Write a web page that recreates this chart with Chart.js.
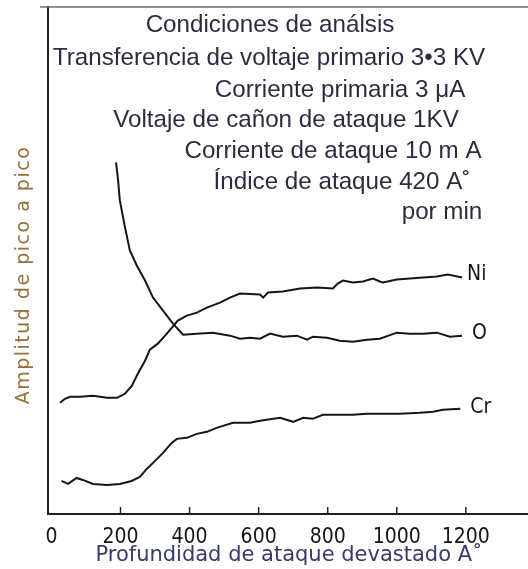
<!DOCTYPE html>
<html>
<head>
<meta charset="utf-8">
<script src="https://cdn.jsdelivr.net/npm/chart.js@4.4.1/dist/chart.umd.min.js"></script>
<style>
  html, body { margin: 0; padding: 0; background: #fff; }
  #wrap { width: 528px; height: 569px; position: relative; }
</style>
</head>
<body>
<div id="wrap"><canvas id="perfil"></canvas></div>
<script>
// Profundidad (A) y amplitud pico a pico de cada elemento
const depthTicks = [0, 200, 400, 600, 800, 1000, 1200];

const niDepth = [25, 39, 54, 83, 120, 161, 190, 213, 233, 250, 271, 285, 308, 329, 349, 366, 392, 421, 450, 488, 517, 546, 604, 613, 627, 670, 720, 769, 815, 829, 844, 873, 902, 931, 951, 960, 1000, 1038, 1076, 1116, 1148, 1189];
const niAmp = [111, 115, 117, 117, 118, 116, 116, 120, 128, 140, 153, 164, 170, 178, 186, 193, 198, 201, 206, 211, 216, 220, 219, 216, 221, 222, 225, 226, 225, 230, 233, 231, 232, 235, 232, 231, 234, 235, 236, 237, 239, 236];

const oDepth = [187, 193, 198, 213, 227, 247, 271, 294, 323, 352, 381, 421, 468, 517, 546, 575, 604, 633, 670, 711, 740, 757, 798, 835, 873, 914, 951, 1000, 1038, 1076, 1116, 1154, 1189];
const oAmp = [351, 333, 313, 286, 263, 248, 233, 216, 203, 190, 179, 180, 181, 178, 175, 176, 175, 180, 177, 178, 174, 177, 176, 173, 172, 174, 175, 181, 180, 180, 181, 177, 178];

const crDepth = [29, 48, 73, 91, 120, 161, 198, 232, 256, 276, 300, 323, 348, 363, 392, 421, 450, 478, 526, 575, 604, 662, 700, 729, 757, 786, 835, 873, 914, 951, 1009, 1067, 1105, 1134, 1184];
const crAmp = [33, 30, 36, 34, 30, 29, 30, 33, 37, 45, 53, 61, 71, 75, 76, 80, 82, 86, 91, 91, 93, 96, 92, 96, 95, 99, 99, 99, 100, 100, 100, 101, 102, 104, 105];

const seriesNames = ['Ni', 'O', 'Cr'];

const conditionLines = [
  'Condiciones de análsis',
  'Transferencia de voltaje primario 3•3 KV',
  'Corriente primaria 3 μA',
  'Voltaje de cañon de ataque 1KV',
  'Corriente de ataque 10 m A',
  'Índice de ataque 420 A˚',
  'por min'
];

const xTitle = 'Profundidad de ataque devastado A˚';
const yTitle = 'Amplitud de pico a pico';

function toPoints(xs, ys) {
  return xs.map((x, i) => ({ x: x, y: ys[i] }));
}

const lineStyle = {
  borderColor: '#161616',
  borderWidth: 2,
  pointRadius: 0,
  tension: 0,
  fill: false
};

// marco superior, marcas hacia dentro, rotulos de curvas, condiciones y titulos
const overlay = {
  id: 'overlay',
  afterDraw(chart, args, opts) {
    const ctx = chart.ctx;
    const area = chart.chartArea;
    const xs = chart.scales.x;

    ctx.save();

    // linea superior del marco
    ctx.strokeStyle = '#6a6a6a';
    ctx.lineWidth = 1.5;
    ctx.beginPath();
    ctx.moveTo(40, area.top);
    ctx.lineTo(chart.width, area.top);
    ctx.stroke();

    // marcas del eje x hacia arriba
    ctx.strokeStyle = '#222';
    ctx.lineWidth = 1.5;
    depthTicks.forEach(v => {
      if (v === 0) return;
      const px = xs.getPixelForValue(v);
      ctx.beginPath();
      ctx.moveTo(px, area.bottom);
      ctx.lineTo(px, area.bottom - 7);
      ctx.stroke();
    });

    // nombre de cada curva junto a su ultimo punto
    ctx.fillStyle = '#151515';
    ctx.font = '21px "DejaVu Sans Condensed"';
    ctx.textAlign = 'left';
    ctx.textBaseline = 'middle';
    chart.data.datasets.forEach((ds, i) => {
      const meta = chart.getDatasetMeta(i);
      const last = meta.data[meta.data.length - 1];
      const off = opts.labelOffsets[i];
      ctx.fillText(ds.label, last.x + off[0], last.y + off[1]);
    });

    // condiciones de analisis
    ctx.fillStyle = '#2f2a40';
    ctx.font = '24.2px "Liberation Sans"';
    ctx.textAlign = 'center';
    conditionLines.forEach((t, i) => {
      const pos = opts.textPos[i];
      ctx.fillText(t, pos[0], pos[1]);
    });

    // titulo del eje x
    ctx.fillStyle = '#3a3a6a';
    ctx.font = '21px "DejaVu Sans"';
    ctx.fillText(xTitle, 289, 556);

    // titulo del eje y
    ctx.translate(24, 275);
    ctx.rotate(-Math.PI / 2);
    ctx.fillStyle = '#94703a';
    ctx.font = '19px "DejaVu Sans"';
    ctx.letterSpacing = '1.5px';
    ctx.fillText(yTitle, 0, 0);

    ctx.restore();
  }
};

new Chart(document.getElementById('perfil'), {
  type: 'line',
  data: {
    datasets: [
      Object.assign({ label: seriesNames[0], data: toPoints(niDepth, niAmp) }, lineStyle),
      Object.assign({ label: seriesNames[1], data: toPoints(oDepth, oAmp) }, lineStyle),
      Object.assign({ label: seriesNames[2], data: toPoints(crDepth, crAmp) }, lineStyle)
    ]
  },
  options: {
    responsive: true,
    maintainAspectRatio: false,
    animation: false,
    layout: { padding: { left: 48, top: 7, right: 0, bottom: 8 } },
    plugins: {
      legend: { display: false },
      tooltip: { enabled: false },
      overlay: {
        labelOffsets: [[5, -3], [10, -2], [10, -1]],
        textPos: [[270, 25], [269, 58], [340, 90], [286, 120], [333, 151], [342, 182], [442, 212]]
      }
    },
    scales: {
      x: {
        type: 'linear',
        min: -10,
        max: 1380,
        afterBuildTicks: axis => { axis.ticks = depthTicks.map(v => ({ value: v })); },
        grid: { display: false, drawTicks: false },
        border: { display: true, color: '#1e1e1e', width: 2 },
        ticks: {
          color: '#151515',
          padding: 13,
          callback: v => String(v),
          font: { family: 'DejaVu Sans Condensed', size: 21, lineHeight: 1 }
        },
        title: { display: false }
      },
      y: {
        min: 0,
        max: 506,
        grid: { display: false, drawTicks: false },
        border: { display: true, color: '#1e1e1e', width: 2 },
        ticks: { display: false }
      }
    }
  },
  plugins: [overlay]
});
</script>
</body>
</html>
